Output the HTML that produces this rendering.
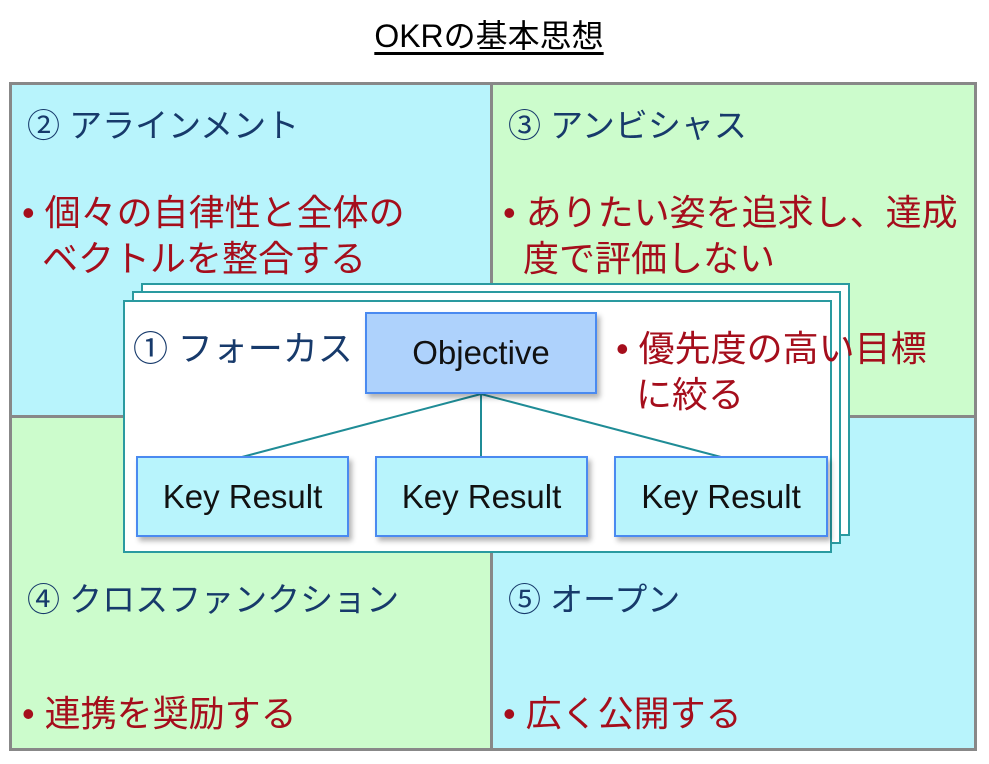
<!DOCTYPE html>
<html><head><meta charset="utf-8"><style>
body{margin:0;width:989px;height:764px;background:#fff;position:relative;overflow:hidden;font-family:"Liberation Sans","Noto Sans CJK JP",sans-serif}
.a{position:absolute;box-sizing:border-box}
.h{position:absolute;color:#173a6b;font-size:33px;line-height:40px;white-space:nowrap}
.r{position:absolute;color:#a50e1c;font-size:36px;line-height:46px;white-space:nowrap}
.box{position:absolute;box-sizing:border-box;border:2px solid #4a8af0;background:#b8f4fc;box-shadow:3px 4px 5px rgba(0,0,0,.3);display:flex;align-items:center;justify-content:center;font-size:33px;color:#111}
</style></head><body>
<div class="a" style="left:0;top:16px;width:978px;text-align:center;font-size:32px;line-height:40px"><span style="text-decoration:underline;text-underline-offset:5px">OKRの基本思想</span></div>
<div class="a" style="left:9px;top:82px;width:968px;height:669px;border:3px solid #888"></div>
<div class="a" style="left:12px;top:85px;width:480px;height:332px;background:#b8f4fc"></div>
<div class="a" style="left:492px;top:85px;width:482px;height:332px;background:#ccfccc"></div>
<div class="a" style="left:12px;top:417px;width:480px;height:331px;background:#ccfccc"></div>
<div class="a" style="left:492px;top:417px;width:482px;height:331px;background:#b8f4fc"></div>
<div class="a" style="left:490px;top:85px;width:3px;height:663px;background:#888"></div>
<div class="a" style="left:12px;top:415px;width:962px;height:3px;background:#888"></div>
<div class="h" style="left:27px;top:106px">② アラインメント</div>
<div class="r" style="left:22px;top:190px">• 個々の自律性と全体の<br>&nbsp;&nbsp;ベクトルを整合する</div>
<div class="h" style="left:508px;top:106px">③ アンビシャス</div>
<div class="r" style="left:503px;top:190px">• ありたい姿を追求し、達成<br>&nbsp;&nbsp;度で評価しない</div>
<div class="h" style="left:27px;top:580px">④ クロスファンクション</div>
<div class="r" style="left:22px;top:691px">• 連携を奨励する</div>
<div class="h" style="left:508px;top:580px">⑤ オープン</div>
<div class="r" style="left:503px;top:691px">• 広く公開する</div>
<div class="a" style="left:141px;top:283px;width:709px;height:253px;background:#fff;border:2px solid #2a9aa0"></div>
<div class="a" style="left:132px;top:291px;width:709px;height:253px;background:#fff;border:2px solid #2a9aa0"></div>
<div class="a" style="left:123px;top:300px;width:709px;height:253px;background:#fff;border:2px solid #2a9aa0"></div>
<svg class="a" style="left:0;top:0" width="989" height="764"><g stroke="#1f8c96" stroke-width="2"><line x1="481" y1="394" x2="242" y2="457"/><line x1="481" y1="394" x2="481" y2="457"/><line x1="481" y1="394" x2="721" y2="457"/></g></svg>
<div class="h" style="left:133px;top:330px;font-size:35px">① フォーカス</div>
<div class="box" style="left:365px;top:312px;width:232px;height:82px;background:#aed2fc">Objective</div>
<div class="r" style="left:616px;top:326px">• 優先度の高い目標<br>&nbsp;&nbsp;に絞る</div>
<div class="box" style="left:136px;top:456px;width:213px;height:81px">Key Result</div>
<div class="box" style="left:375px;top:456px;width:213px;height:81px">Key Result</div>
<div class="box" style="left:614px;top:456px;width:214px;height:81px">Key Result</div>
</body></html>
